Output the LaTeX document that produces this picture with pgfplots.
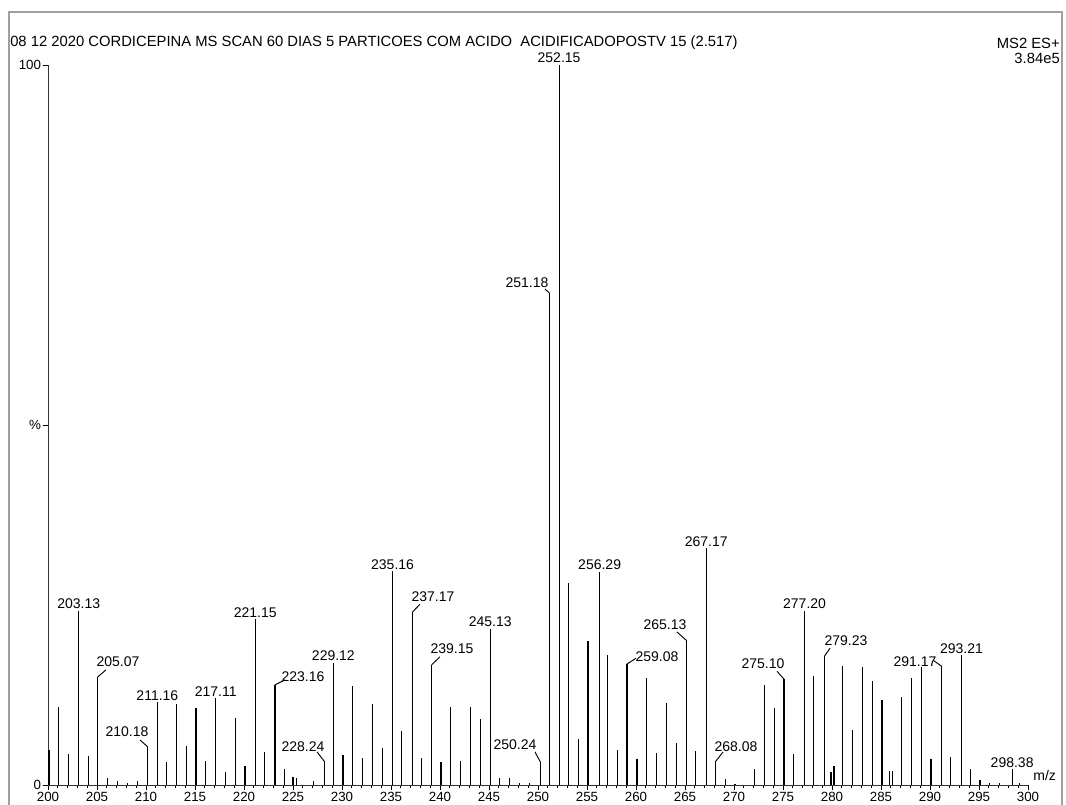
\documentclass[border=0pt]{standalone}
\usepackage{pgfplots}
\pgfplotsset{compat=1.18}
\usepackage{fontspec}
\setmainfont{Liberation Sans}
\newcommand{\lab}[3]{\node[anchor=south,inner sep=1.2pt,font=\fontsize{10.5}{11}\selectfont] at (axis cs:#1,#2) {#3};}
\newcommand{\llab}[7]{\node[inner sep=0pt,font=\fontsize{10.5}{11}\selectfont] at (axis cs:#1,#2) {#3};\draw[line width=0.7pt] (axis cs:#4,#5) -- (axis cs:#6,#7);}
\begin{document}
\begin{tikzpicture}[x=1pt,y=1pt]
\useasboundingbox (-36,-15) rectangle (763.5,588.75);
\draw[gray!75,line width=1.3pt] (-29.25,-40) -- (-29.25,579.75) -- (760.5,579.75) -- (760.5,-40);
\begin{axis}[
  at={(0,0)}, anchor=south west,
  scale only axis, width=735pt, height=540pt,
  xmin=200, xmax=300, ymin=0, ymax=100,
  axis x line=bottom, axis y line=left,
  axis line style={-, line width=0.6pt, black!80},
  clip=false,
  xtick={200,205,...,300},
  minor x tick num=4,
  ytick={0,50,100}, yticklabels={0,\%,100},
  tick align=outside,
  major tick length=4pt, minor tick length=2pt,
  tick style={line width=0.6pt, black},
  ticklabel style={font=\fontsize{10}{11}\selectfont},
  xticklabel style={inner sep=1pt, yshift=-0.5pt},
  yticklabel style={inner sep=1pt},
  /pgf/number format/assume math mode=true,
]
\addplot[ycomb, black, line width=0.85pt, mark=none] coordinates {
(200.1,4.9) (201.1,10.8) (202.1,4.3) (203.13,24.2) (204.1,4.0) (205.07,15.0)
(206.1,1.0) (207.1,0.6) (208.1,0.3) (209.1,0.5) (210.18,5.3) (211.16,11.5)
(212.1,3.2) (213.1,11.2) (214.1,5.4) (215.1,10.7) (216.1,3.3) (217.11,12.1)
(218.1,1.8) (219.1,9.3) (220.1,2.6) (221.15,23.0) (222.1,4.6) (223.16,13.9)
(224.1,2.2) (225.0,1.1) (225.4,1.0) (227.1,0.5) (228.24,3.2) (229.12,17.0)
(230.1,4.2) (231.1,13.7) (232.1,3.8) (233.1,11.2) (234.1,5.1) (235.16,29.7)
(236.1,7.5) (237.17,24.0) (238.1,3.8) (239.15,16.7) (240.1,3.2) (241.1,10.8)
(242.1,3.3) (243.1,10.8) (244.1,9.2) (245.13,21.7) (246.1,1.0) (247.1,1.0)
(248.1,0.3) (249.1,0.3) (250.24,3.2) (251.18,68.3) (252.15,100) (253.15,28.1)
(254.1,6.4) (255.1,20.0) (256.29,29.6) (257.1,18.0) (258.1,4.9) (259.08,16.8)
(260.1,3.6) (261.1,14.9) (262.1,4.4) (263.1,11.4) (264.1,5.8) (265.13,20.1)
(266.1,4.7) (267.17,32.9) (268.08,3.2) (269.1,0.8) (270.1,0.2) (272.1,2.2)
(273.1,13.9) (274.1,10.7) (275.10,14.7) (276.1,4.3) (277.20,24.2) (278.1,15.1)
(279.23,17.9) (279.9,1.8) (280.2,2.6) (281.1,16.5) (282.1,7.6) (283.1,16.4)
(284.1,14.4) (285.1,11.8) (285.9,1.9) (286.2,1.9) (287.1,12.2) (288.1,14.9)
(289.1,16.4) (290.1,3.6) (291.17,16.5) (292.1,3.9) (293.21,18.0) (294.1,2.2)
(295.1,0.7) (296.1,0.3) (297.1,0.3) (298.38,2.2) (299.1,0.3)
};
\lab{203.13}{24.2}{203.13}
\lab{211.16}{11.5}{211.16}
\lab{217.11}{12.1}{217.11}
\lab{221.15}{23.0}{221.15}
\lab{229.12}{17.0}{229.12}
\lab{235.16}{29.7}{235.16}
\lab{245.13}{21.7}{245.13}
\lab{252.15}{100}{252.15}
\lab{256.29}{29.6}{256.29}
\lab{267.17}{32.9}{267.17}
\lab{277.20}{24.2}{277.20}
\lab{293.21}{18.0}{293.21}
\lab{298.38}{2.2}{298.38}
\llab{207.14}{17.1}{205.07}{205.07}{15.0}{205.92}{16.0}
\llab{208.06}{7.36}{210.18}{210.18}{5.3}{209.39}{6.25}
\llab{226.02}{15.0}{223.16}{223.16}{13.9}{224.18}{14.6}
\llab{226.02}{5.28}{228.24}{228.24}{3.2}{227.45}{4.6}
\llab{239.29}{26.1}{237.17}{237.17}{24.0}{237.96}{25.1}
\llab{241.22}{18.9}{239.15}{239.15}{16.7}{240.0}{17.8}
\llab{247.65}{5.56}{250.24}{250.24}{3.2}{249.69}{4.6}
\llab{248.88}{69.7}{251.18}{251.18}{68.3}{250.7}{68.9}
\llab{262.14}{17.8}{259.08}{259.08}{16.8}{260.0}{17.6}
\llab{262.96}{22.2}{265.13}{265.13}{20.1}{264.18}{21.25}
\llab{270.2}{5.28}{268.08}{268.08}{3.2}{268.88}{4.58}
\llab{272.96}{16.8}{275.10}{275.10}{14.7}{274.39}{15.8}
\llab{281.43}{20.1}{279.23}{279.23}{17.9}{279.8}{19.0}
\llab{288.47}{17.1}{291.17}{291.17}{16.5}{290.35}{17.3}
\node[font=\fontsize{10.5}{11}\selectfont] at (axis cs:301.7,1.3) {m/z};
\end{axis}
\node[anchor=west,inner sep=0pt,font=\fontsize{11.1}{12}\selectfont] at (-28.5,556.5) {08 12 2020 CORDICEPINA MS SCAN 60 DIAS 5 PARTICOES COM ACIDO\ \ ACIDIFICADOPOSTV 15 (2.517)};
\node[anchor=east,inner sep=0pt,font=\fontsize{11.1}{12}\selectfont] at (759,556.5) {MS2 ES+};
\node[anchor=east,inner sep=0pt,font=\fontsize{11.1}{12}\selectfont] at (759,545) {3.84e5};
\end{tikzpicture}
\end{document}
